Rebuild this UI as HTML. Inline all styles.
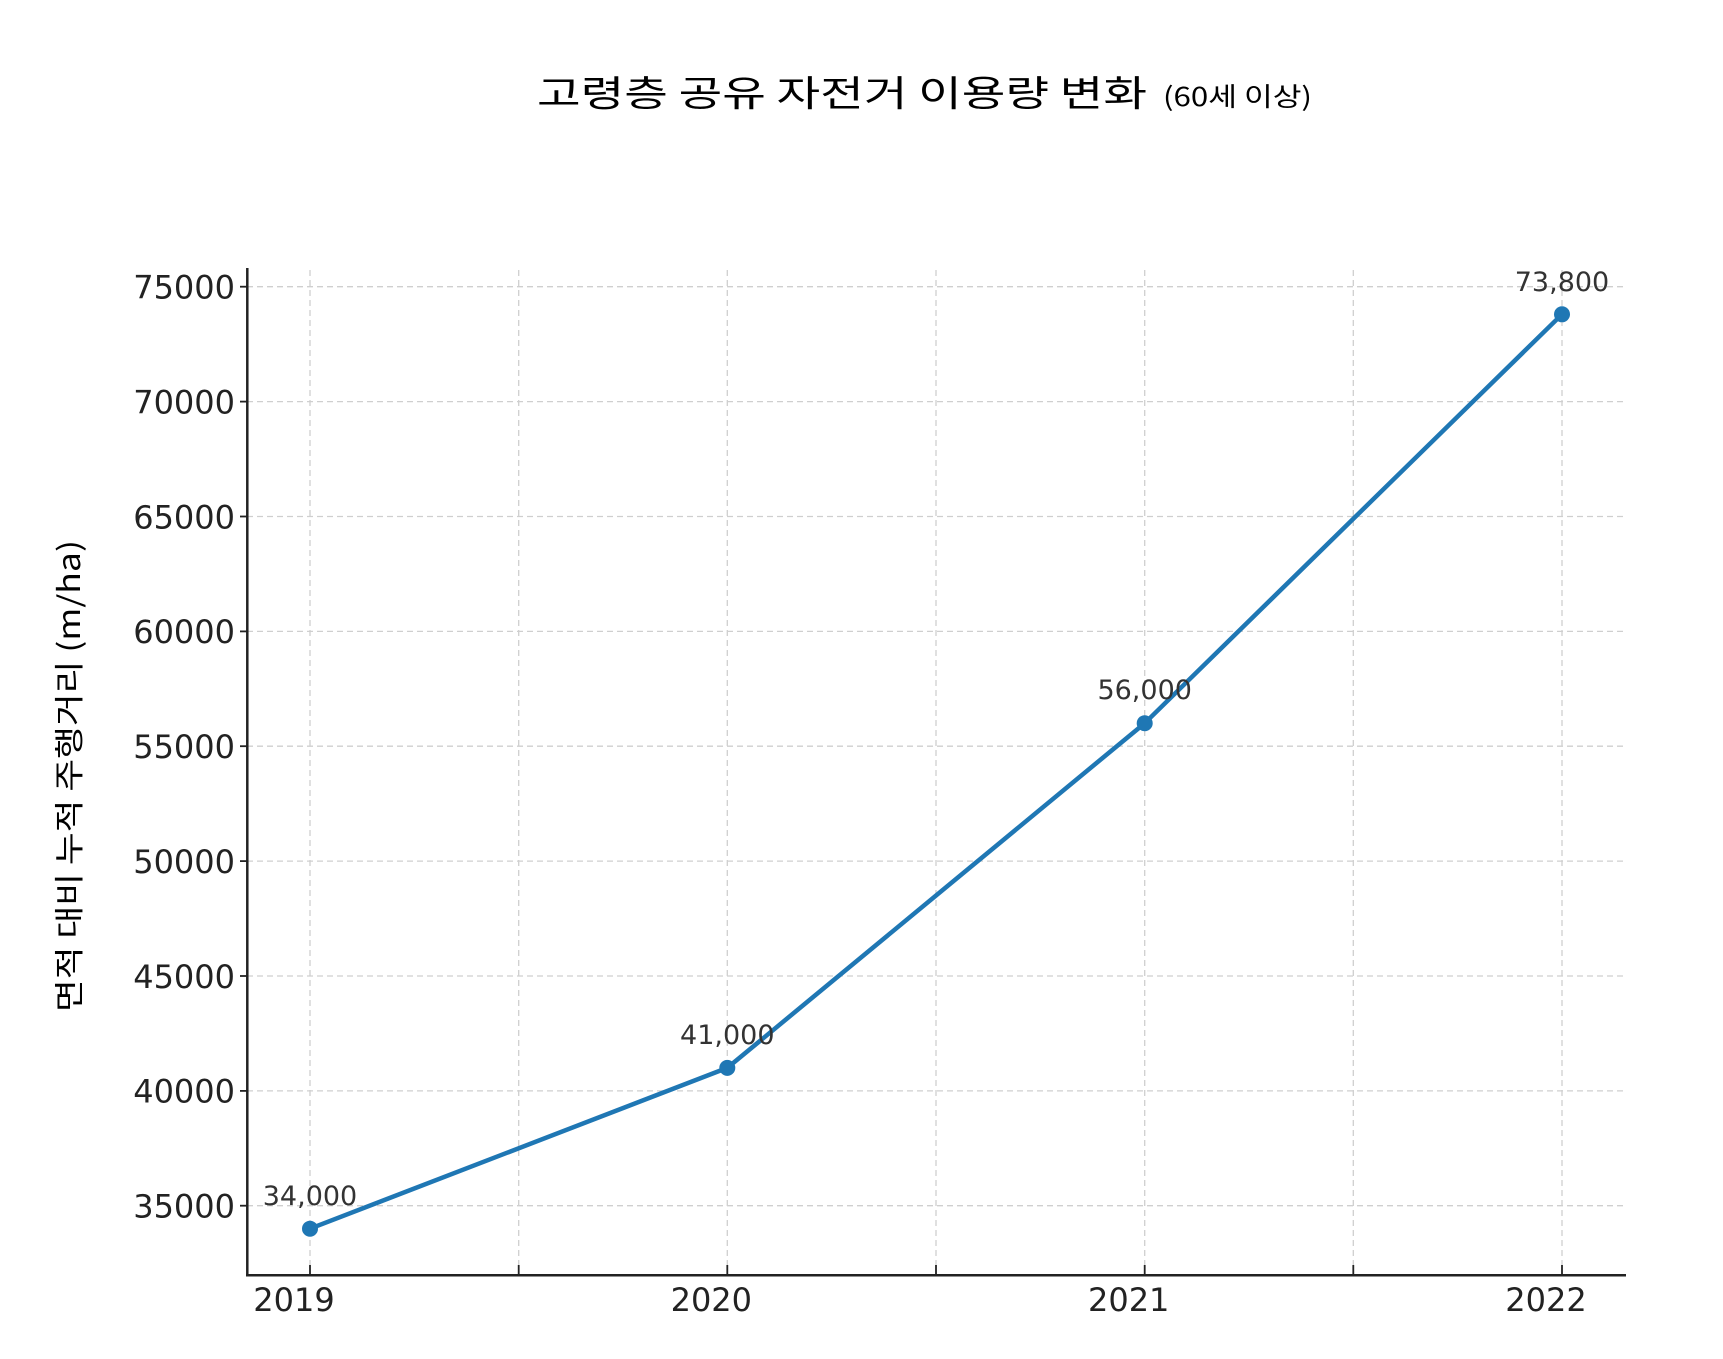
<!DOCTYPE html>
<html><head><meta charset="utf-8"><style>html,body{margin:0;padding:0;background:#fff}svg{display:block}</style></head>
<body>
<svg width="1723" height="1359" viewBox="0 0 1723 1359" xmlns="http://www.w3.org/2000/svg">
<rect width="1723" height="1359" fill="#fff"/>
<text x="537" y="106" font-family="Noto Sans CJK KR, sans-serif" font-size="36" fill="#000" textLength="610" lengthAdjust="spacingAndGlyphs">고령층 공유 자전거 이용량 변화</text>
<text x="1163" y="106" font-family="Noto Sans CJK KR, sans-serif" font-size="26" fill="#000" textLength="149" lengthAdjust="spacingAndGlyphs">(60세 이상)</text>
<g stroke="#cfcfcf" stroke-width="1.3" stroke-dasharray="6,4" fill="none">
<line x1="247" y1="286.7" x2="1625" y2="286.7"/><line x1="247" y1="401.6" x2="1625" y2="401.6"/><line x1="247" y1="516.5" x2="1625" y2="516.5"/><line x1="247" y1="631.4" x2="1625" y2="631.4"/><line x1="247" y1="746.2" x2="1625" y2="746.2"/><line x1="247" y1="861.1" x2="1625" y2="861.1"/><line x1="247" y1="976" x2="1625" y2="976"/><line x1="247" y1="1090.9" x2="1625" y2="1090.9"/><line x1="247" y1="1205.7" x2="1625" y2="1205.7"/>
<line x1="310" y1="270" x2="310" y2="1275"/><line x1="518.7" y1="270" x2="518.7" y2="1275"/><line x1="727.3" y1="270" x2="727.3" y2="1275"/><line x1="936" y1="270" x2="936" y2="1275"/><line x1="1144.7" y1="270" x2="1144.7" y2="1275"/><line x1="1353.3" y1="270" x2="1353.3" y2="1275"/><line x1="1562" y1="270" x2="1562" y2="1275"/>
</g>
<g stroke="#222" stroke-width="2.5" fill="none">
<line x1="247.3" y1="268" x2="247.3" y2="1276.5"/><line x1="246" y1="1275.3" x2="1626" y2="1275.3"/>
</g>
<g stroke="#222" stroke-width="1.8">
<line x1="240" y1="286.7" x2="247" y2="286.7"/><line x1="240" y1="401.6" x2="247" y2="401.6"/><line x1="240" y1="516.5" x2="247" y2="516.5"/><line x1="240" y1="631.4" x2="247" y2="631.4"/><line x1="240" y1="746.2" x2="247" y2="746.2"/><line x1="240" y1="861.1" x2="247" y2="861.1"/><line x1="240" y1="976" x2="247" y2="976"/><line x1="240" y1="1090.9" x2="247" y2="1090.9"/><line x1="240" y1="1205.7" x2="247" y2="1205.7"/>
<line x1="310" y1="1275" x2="310" y2="1265"/><line x1="518.7" y1="1275" x2="518.7" y2="1265"/><line x1="727.3" y1="1275" x2="727.3" y2="1265"/><line x1="936" y1="1275" x2="936" y2="1265"/><line x1="1144.7" y1="1275" x2="1144.7" y2="1265"/><line x1="1353.3" y1="1275" x2="1353.3" y2="1265"/><line x1="1562" y1="1275" x2="1562" y2="1265"/>
</g>
<g font-family="DejaVu Sans, sans-serif" font-size="32" fill="#222" text-anchor="end">
<text x="235" y="298.5">75000</text><text x="235" y="413.4">70000</text><text x="235" y="528.3">65000</text><text x="235" y="643.2">60000</text><text x="235" y="758">55000</text><text x="235" y="872.9">50000</text><text x="235" y="987.8">45000</text><text x="235" y="1102.7">40000</text><text x="235" y="1217.5">35000</text>
</g>
<g font-family="DejaVu Sans, sans-serif" font-size="32" fill="#222" text-anchor="middle">
<text x="294" y="1311">2019</text><text x="711.3" y="1311">2020</text><text x="1128.7" y="1311">2021</text><text x="1546" y="1311">2022</text>
</g>
<text transform="translate(80,776) rotate(-90)" font-family="Noto Sans CJK KR, sans-serif" font-size="30" fill="#000" text-anchor="middle" textLength="472" lengthAdjust="spacingAndGlyphs">면적 대비 누적  주행거리 (m/ha)</text>
<polyline points="310,1228.7 727.3,1067.9 1144.7,723.2 1562,314.3" fill="none" stroke="#1f77b4" stroke-width="4.5" stroke-linejoin="round"/>
<g fill="#1f77b4">
<circle cx="310" cy="1228.7" r="8"/><circle cx="727.3" cy="1067.9" r="8"/><circle cx="1144.7" cy="723.2" r="8"/><circle cx="1562" cy="314.3" r="8"/>
</g>
<g font-family="DejaVu Sans, sans-serif" font-size="27" fill="#333" text-anchor="middle">
<text x="310" y="1205">34,000</text><text x="727.3" y="1044">41,000</text><text x="1144.7" y="699">56,000</text><text x="1562" y="291">73,800</text>
</g>
</svg>
</body></html>
